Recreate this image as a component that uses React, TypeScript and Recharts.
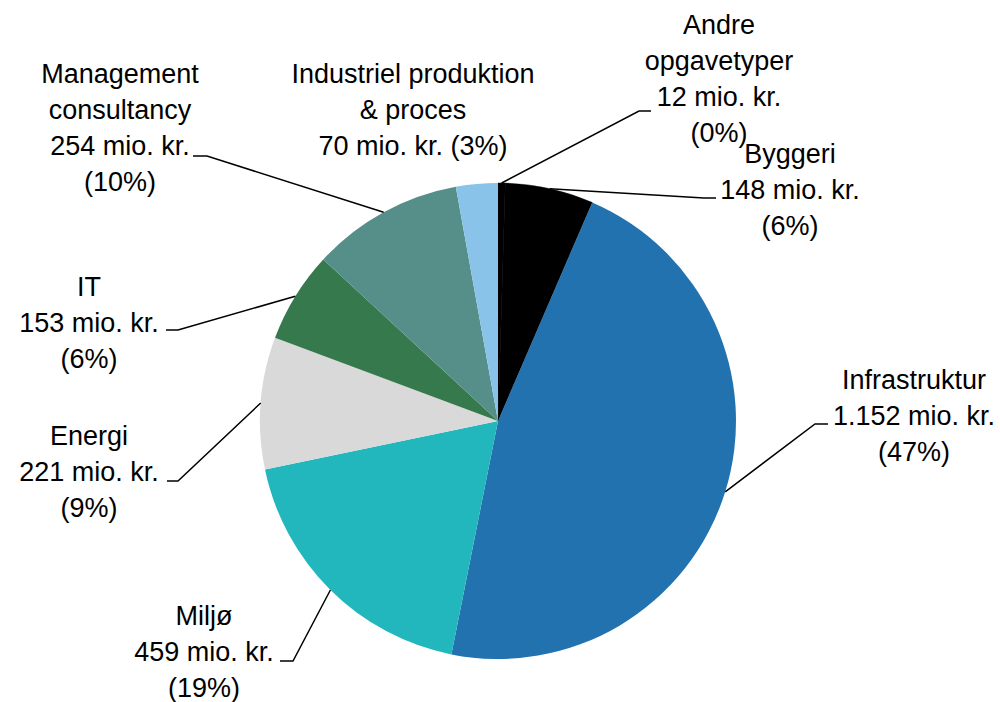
import { PieChart, Pie, Cell } from "recharts";

const names = [
  "Andre\nopgavetyper",
  "Byggeri",
  "Infrastruktur",
  "Miljø",
  "Energi",
  "IT",
  "Management\nconsultancy",
  "Industriel produktion\n& proces",
];
const values = [12, 148, 1152, 459, 221, 153, 254, 70];
const colors = [
  "#000000",
  "#000000",
  "#2372B0",
  "#22B6BD",
  "#D9D9D9",
  "#35794C",
  "#568F89",
  "#89C3E9",
];

const total = values.reduce((a, b) => a + b, 0);
const data = names.map((name, i) => ({ name, value: values[i] }));

// where each label sits (text centre x, first baseline, leader elbow)
const labelLayout = [
  { x: 719, y: 34, ex: 639, ey: 111, hx: 651 },
  { x: 790, y: 163, ex: 704, ey: 198, hx: 716 },
  { x: 914, y: 389, ex: 815, ey: 424, hx: 828 },
  { x: 204, y: 625, ex: 293, ey: 661, hx: 280 },
  { x: 89, y: 445, ex: 178, ey: 481, hx: 167 },
  { x: 89, y: 296, ex: 178, ey: 330, hx: 166 },
  { x: 120, y: 83, ex: 207, ey: 156, hx: 193 },
  { x: 413, y: 83, joinValue: true, noLine: true },
];

const RAD = Math.PI / 180;
const FONT = "'Liberation Sans', Arial, sans-serif";
const LINE_H = 36;

function formatKr(v: number) {
  const s = String(v).replace(/\B(?=(\d{3})+(?!\d))/g, ".");
  return `${s} mio. kr.`;
}

function renderLabel(props: any) {
  const { cx, cy, midAngle, outerRadius, index } = props;
  const lay: any = labelLayout[index];
  const v = values[index];
  const pct = `(${Math.round((v / total) * 100)}%)`;
  const lines = names[index].split("\n");
  if (lay.joinValue) lines.push(`${formatKr(v)} ${pct}`);
  else lines.push(formatKr(v), pct);

  const px = cx + outerRadius * Math.cos(-midAngle * RAD);
  const py = cy + outerRadius * Math.sin(-midAngle * RAD);

  return (
    <g key={`lbl-${index}`}>
      {!lay.noLine && (
        <polyline
          points={`${px},${py} ${lay.ex},${lay.ey} ${lay.hx},${lay.ey}`}
          fill="none"
          stroke="#000"
          strokeWidth={1.5}
        />
      )}
      <text
        textAnchor="middle"
        fontFamily={FONT}
        fontSize={27}
        fill="#000"
      >
        {lines.map((t, i) => (
          <tspan key={i} x={lay.x} y={lay.y + i * LINE_H}>
            {t}
          </tspan>
        ))}
      </text>
    </g>
  );
}

export default function App() {
  return (
    <div style={{ position: "absolute", left: 0, top: 0, background: "#fff" }}>
      <PieChart
        width={1000}
        height={702}
        margin={{ top: 0, right: 0, bottom: 0, left: 0 }}
      >
        <Pie
          data={data}
          dataKey="value"
          nameKey="name"
          cx={498}
          cy={421}
          outerRadius={238}
          startAngle={90}
          endAngle={-270}
          stroke="#000"
          strokeWidth={0}
          label={renderLabel}
          labelLine={false}
          isAnimationActive={false}
        >
          {data.map((d, i) => (
            <Cell key={d.name} fill={colors[i]} stroke={colors[i]} strokeWidth={i < 2 ? 0.5 : 0} />
          ))}
        </Pie>
      </PieChart>
    </div>
  );
}
